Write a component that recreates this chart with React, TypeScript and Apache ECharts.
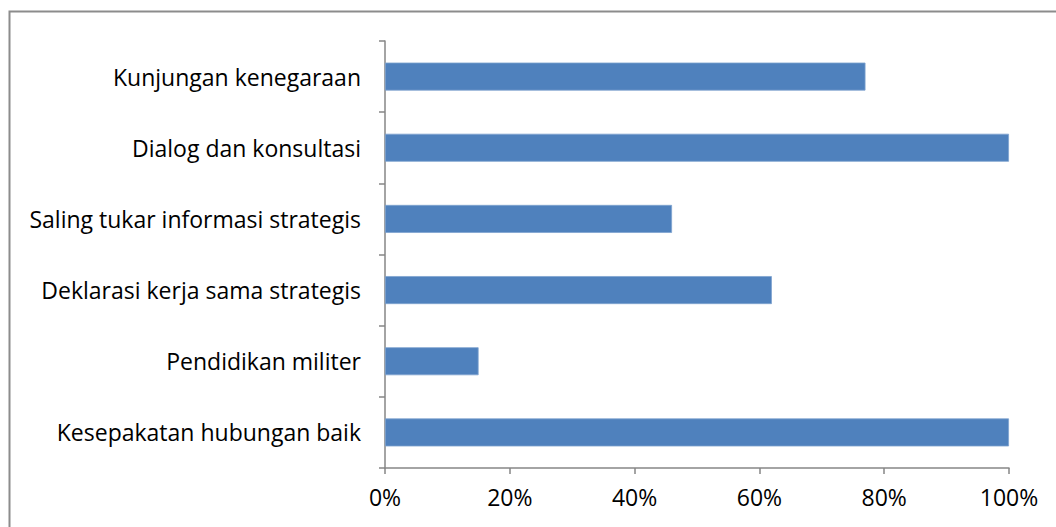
import React, { useEffect, useRef } from "react";
import * as echarts from "echarts";

const categories = [
  "Kesepakatan hubungan baik",
  "Pendidikan militer",
  "Deklarasi kerja sama strategis",
  "Saling tukar informasi strategis",
  "Dialog dan konsultasi",
  "Kunjungan kenegaraan",
];
const values = [100, 15, 62, 46, 100, 77];

export default function App() {
  const ref = useRef<HTMLDivElement>(null);
  useEffect(() => {
    const chart = echarts.init(ref.current!, null, { renderer: "svg" });
    const font = "'Open Sans', 'Liberation Sans', sans-serif";
    chart.setOption({
      animation: false,
      backgroundColor: "#ffffff",
      graphic: [
        {
          type: "rect",
          shape: { x: 9.5, y: 11.5, width: 1060, height: 530 },
          style: { fill: "none", stroke: "#8c8c8c", lineWidth: 2 },
          silent: true,
        },
      ],
      grid: { left: 385, right: 47, top: 41, bottom: 59, containLabel: false },
      xAxis: {
        type: "value",
        min: 0,
        max: 100,
        interval: 20,
        axisLine: { show: true, lineStyle: { color: "#868686", width: 1.5 } },
        axisTick: { show: true, length: 6, lineStyle: { color: "#868686", width: 1.5 } },
        splitLine: { show: false },
        axisLabel: {
          formatter: (v: number) => v + "%",
          color: "#000",
          fontSize: 23,
          fontFamily: font,
          margin: 17,
        },
      },
      yAxis: {
        type: "category",
        data: categories,
        axisLine: { show: true, lineStyle: { color: "#868686", width: 1.5 } },
        axisTick: { show: true, length: 6, lineStyle: { color: "#868686", width: 1.5 } },
        axisLabel: {
          color: "#000",
          fontSize: 23,
          fontFamily: font,
          margin: 24,
        },
      },
      series: [
        {
          type: "bar",
          data: values,
          barWidth: 28,
          itemStyle: { color: "#4F81BD", borderColor: "#7fa3cf", borderWidth: 0.8 },
        },
      ],
    });
    return () => chart.dispose();
  }, []);
  return (
    <div
      ref={ref}
      style={{ position: "fixed", left: 0, top: 0, width: 1056, height: 527 }}
    />
  );
}
